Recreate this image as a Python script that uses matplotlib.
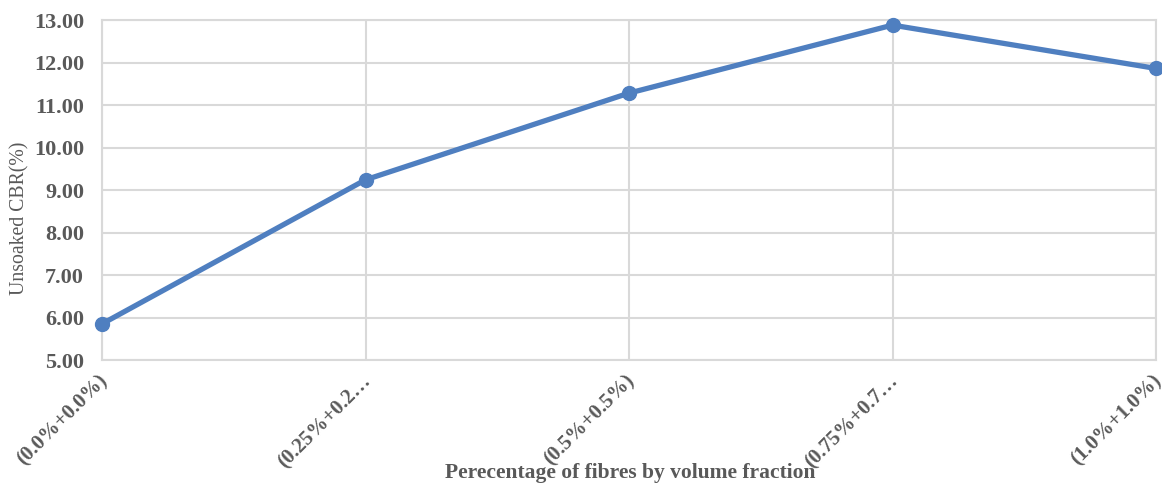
import matplotlib
matplotlib.use("Agg")
import matplotlib.pyplot as plt
from matplotlib.transforms import ScaledTranslation

categories = ["(0.0%+0.0%)", "(0.25%+0.2…", "(0.5%+0.5%)", "(0.75%+0.7…", "(1.0%+1.0%)"]
cbr_values = [5.85, 9.24, 11.28, 12.88, 11.86]
y_ticks = [5, 6, 7, 8, 9, 10, 11, 12, 13]

plt.rcParams['font.family'] = ['Liberation Serif', 'DejaVu Serif']

fig = plt.figure(figsize=(11.62, 4.84), dpi=100)
ax = fig.add_axes([102 / 1162, 124 / 484, 1054 / 1162, 340 / 484])

x = list(range(len(categories)))
ax.plot(x, cbr_values, color='#4F7FC0', linewidth=3.8, marker='o', markersize=10,
        solid_capstyle='round', zorder=3, clip_on=False)

ax.set_xlim(0, len(categories) - 1)
ax.set_ylim(5, 13)
ax.set_yticks(y_ticks)
ax.set_yticklabels([f"{v:.2f}" for v in y_ticks], fontsize=16, fontweight='bold', color='#595959')
ax.set_xticks(x)
ax.set_xticklabels(categories, fontsize=15, fontweight='bold', color='#595959',
                   rotation=45, ha='right', va='top', rotation_mode='anchor')
ax.tick_params(axis='y', length=0, pad=13)
ax.tick_params(axis='x', length=0, pad=8)
shift = ScaledTranslation(-4 / 100, 0, fig.dpi_scale_trans)
for lbl in ax.get_xticklabels():
    lbl.set_transform(lbl.get_transform() + shift)

ax.grid(True, color='#D9D9D9', linewidth=1.5)
ax.set_axisbelow(True)
for s in ax.spines.values():
    s.set_color('#D9D9D9')
    s.set_linewidth(1.5)

fig.text(20 / 1162, 1 - 218 / 484, "Unsoaked CBR(%)", rotation=90, ha='center', va='center',
         fontsize=14.2, color='#595959')
fig.text(630 / 1162, 1 - 473 / 484, "Perecentage of fibres by volume fraction", ha='center', va='center',
         fontsize=15.5, fontweight='bold', color='#595959')

fig.savefig("out.png", dpi=100)
